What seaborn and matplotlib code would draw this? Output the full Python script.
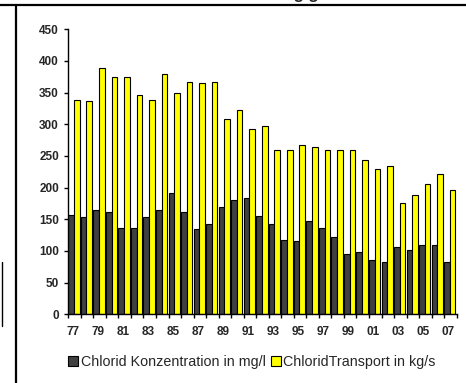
import numpy as np
import pandas as pd
import matplotlib
matplotlib.use("Agg")
import matplotlib.pyplot as plt
from matplotlib.lines import Line2D
from matplotlib.patches import Patch
import seaborn as sns

years = ["77", "78", "79", "80", "81", "82", "83", "84", "85", "86", "87", "88",
         "89", "90", "91", "92", "93", "94", "95", "96", "97", "98", "99", "00",
         "01", "02", "03", "04", "05", "06", "07"]
konzentration = [157, 154, 164, 161, 137, 136, 154, 164, 192, 162, 134, 142,
                 170, 181, 183, 155, 143, 117, 116, 148, 136, 122, 96, 98,
                 85, 82, 106, 102, 110, 109, 82]
transport = [339, 337, 389, 375, 375, 346, 339, 380, 350, 367, 365, 367,
             308, 322, 292, 298, 259, 260, 267, 264, 259, 260, 259, 244,
             230, 234, 175, 189, 206, 222, 196]
series_names = ["Chlorid Konzentration in mg/l", "ChloridTransport in kg/s"]
colors = ["#404040", "#FFFF00"]
ytick_vals = list(range(0, 451, 50))

df = pd.DataFrame({
    "year": years * 2,
    "value": konzentration + transport,
    "series": [series_names[0]] * len(years) + [series_names[1]] * len(years),
})

sns.set_theme(style="white")
plt.rcParams["font.family"] = ["Liberation Sans", "DejaVu Sans"]

fig = plt.figure(figsize=(4.66, 3.83), dpi=100)
ax = fig.add_axes([68.3 / 466, 1 - 314.3 / 383, (456.7 - 68.3) / 466, (314.3 - 29.3) / 383])

sns.barplot(data=df, x="year", y="value", hue="series", order=years,
            hue_order=series_names, palette=colors, width=0.9, dodge=True,
            edgecolor="black", linewidth=0.8, saturation=1, ax=ax, legend=False)

n = len(years)
ax.set_xlim(-0.45, n - 0.45)
ax.set_ylim(0, 450)
ax.set_xlabel("")
ax.set_ylabel("")

for s in ["top", "right"]:
    ax.spines[s].set_visible(False)
for s in ["left", "bottom"]:
    ax.spines[s].set_color("black")
    ax.spines[s].set_linewidth(1.0)

ax.set_yticks(ytick_vals)
ax.set_yticklabels([str(v) for v in ytick_vals], fontsize=8.5, fontweight="bold")
ax.tick_params(axis="y", direction="out", length=3.2, width=1, color="black", pad=3.5, left=True)

ax.set_xticks([i - 0.1 for i in range(0, n, 2)])
ax.set_xticklabels(years[::2], fontsize=8.5, fontweight="bold")
ax.set_xticks([i - 0.45 for i in range(n + 1)], minor=True)
ax.tick_params(axis="x", which="major", length=0, pad=8.5)
ax.tick_params(axis="x", which="minor", direction="out", length=3.2, width=1, color="black", bottom=True)

handles = [Patch(facecolor=c, edgecolor="black", linewidth=0.8) for c in colors]
fig.legend(handles, series_names, loc="center", bbox_to_anchor=(252 / 466, 1 - 362 / 383),
           ncol=2, frameon=False, fontsize=10.3, handlelength=0.7, handleheight=0.7,
           handletextpad=0.15, columnspacing=0.4, borderpad=0)

# page frame fragments
fig.add_artist(Line2D([0, 1], [1 - 4.5 / 383, 1 - 4.5 / 383], color="black", lw=1.6))
fig.add_artist(Line2D([15.5 / 466, 15.5 / 466], [0, 1 - 4.5 / 383], color="black", lw=1.6))
fig.add_artist(Line2D([2 / 466, 2 / 466], [1 - 326 / 383, 1 - 262 / 383], color="black", lw=1.0))
fig.text(255 / 466, 1 + 1.5 / 383, "Chlorid Entwicklung gesamt", ha="center", va="baseline",
         fontsize=12, fontweight="bold")

fig.savefig("out.png", dpi=100)
